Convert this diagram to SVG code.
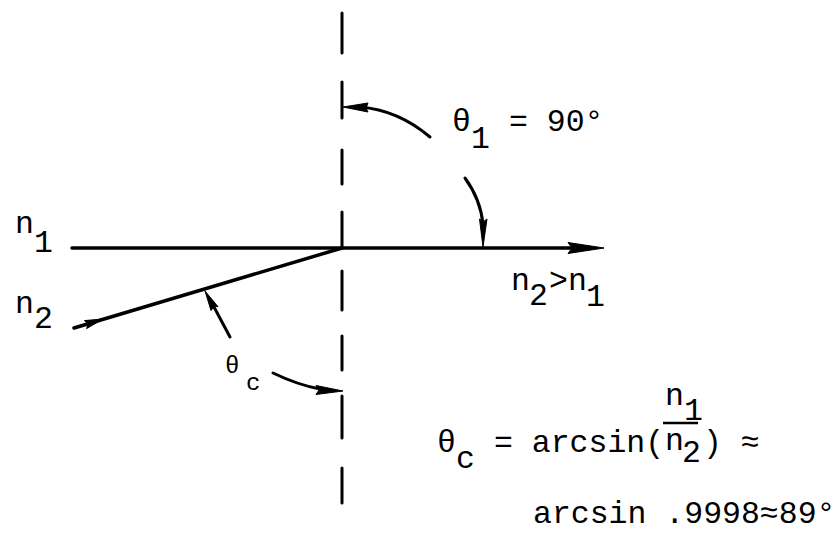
<svg xmlns="http://www.w3.org/2000/svg" width="840" height="536" viewBox="0 0 840 536">
<style>
.t{font-family:"Liberation Mono","DejaVu Sans Mono",monospace;font-size:31.5px;fill:#000}
.s{font-family:"Liberation Mono","DejaVu Sans Mono",monospace;font-size:24px;fill:#000}
.ln{stroke:#000;stroke-width:3.5;fill:none;stroke-linecap:round}
.ds{stroke:#000;stroke-width:3;fill:none;stroke-linecap:round}
.ah{fill:#000;stroke:#000;stroke-width:1;stroke-linejoin:round}
</style>
<rect width="840" height="536" fill="#fff"/>
<g id="normal">
<line class="ds" x1="342" y1="13" x2="342" y2="53"/>
<line class="ds" x1="342" y1="82" x2="342" y2="118"/>
<line class="ds" x1="342" y1="150" x2="342" y2="184"/>
<line class="ds" x1="342" y1="212" x2="342" y2="248"/>
<line class="ds" x1="342" y1="271" x2="342" y2="310"/>
<line class="ds" x1="342" y1="336" x2="342" y2="370"/>
<line class="ds" x1="342" y1="396" x2="342" y2="438"/>
<line class="ds" x1="342" y1="468" x2="342" y2="503"/>
</g>
<g id="connectors">
<line class="ln" x1="72" y1="248" x2="572" y2="248"/>
<polygon class="ah" points="604,248 568,242.5 572,248 568,253.5"/>
<line class="ln" x1="74" y1="328" x2="342" y2="248"/>
<polygon class="ah" points="103,319 86.6,328.6 88,324 84.4,320.6"/>
<path class="ln" d="M360,107 Q398,110 430,137" style="stroke-width:3"/>
<polygon class="ah" points="343,107 368,103 366,108 368,112"/>
<path class="ln" d="M465,178 Q481,200 483,225" style="stroke-width:3"/>
<polygon class="ah" points="483,247 479.5,219 483,222 487,219"/>
<line class="ln" x1="230" y1="337" x2="214" y2="307" style="stroke-width:3"/>
<polygon class="ah" points="205,291 218,306.7 214.5,306 211,310.5"/>
<path class="ln" d="M273,373 Q298,385 320,389" style="stroke-width:3"/>
<polygon class="ah" points="343,391 316,385.5 319,390 316,394.5"/>
</g>
<g id="label-n1">
<text class="t" x="15" y="233">n</text>
<text class="t" x="34" y="252">1</text>
</g>
<g id="label-n2">
<text class="t" x="15" y="313">n</text>
<text class="t" x="34" y="328">2</text>
</g>
<g id="label-theta1">
<text class="t" x="452" y="131">θ</text>
<text class="t" x="471" y="148">1</text>
<text class="t" x="509" y="131">= 90°</text>
</g>
<g id="label-n2gtn1">
<text class="t" x="511" y="290">n</text>
<text class="t" x="529" y="305">2</text>
<text class="t" x="549" y="290">&gt;</text>
<text class="t" x="568" y="290">n</text>
<text class="t" x="586" y="306">1</text>
</g>
<g id="label-thetac">
<text class="s" x="225" y="373">θ</text>
<text class="s" x="246" y="390">c</text>
</g>
<g id="formula">
<text class="t" x="437" y="452">θ</text>
<text class="t" x="456" y="468">c</text>
<text class="t" x="494" y="452">= arcsin(</text>
<text class="t" x="665" y="405">n</text>
<text class="t" x="684" y="420">1</text>
<line x1="663" y1="423" x2="698" y2="423" stroke="#000" stroke-width="2.5"/>
<text class="t" x="665" y="450">n</text>
<text class="t" x="682" y="462">2</text>
<text class="t" x="703" y="452">) ≈</text>
<text class="t" x="533" y="523">arcsin .9998≈89°</text>
</g>
</svg>
